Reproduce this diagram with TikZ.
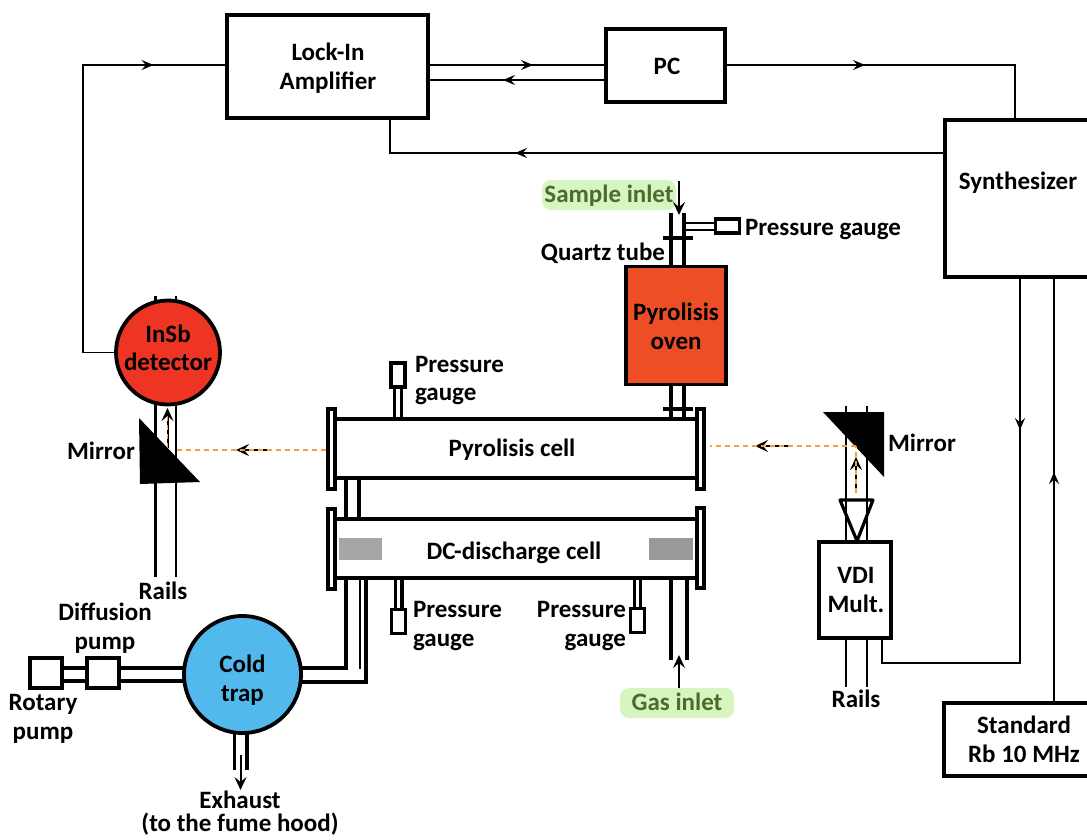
\documentclass[tikz,border=0pt]{standalone}
\usepackage{fontspec}
\setmainfont{Carlito}
\usetikzlibrary{arrows.meta,decorations.markings,calc}
\definecolor{beamc}{HTML}{F4A040}
\definecolor{inletfill}{HTML}{D6F5C0}
\definecolor{inlettext}{HTML}{4C6B2C}
\definecolor{ovenc}{HTML}{EE4E25}
\definecolor{detc}{HTML}{EE3524}
\definecolor{trapc}{HTML}{52B9EC}
\tikzset{
  lab/.style={font=\fontsize{25}{28.5}\selectfont\bfseries,align=center,inner sep=0pt,outer sep=0pt},
  boxn/.style={draw,line width=3.4pt,rectangle,outer sep=0pt,inner sep=0pt,align=center,font=\fontsize{25}{28.5}\selectfont\bfseries},
  flange/.style={draw,line width=3.8pt,fill=white,rectangle,outer sep=0pt,inner sep=0pt,minimum width=7pt,minimum height=80pt},
  gaugebox/.style={draw,line width=3.2pt,fill=white,rectangle,outer sep=0pt,inner sep=0pt},
  circn/.style={draw,line width=3.8pt,circle,outer sep=0pt,inner sep=0pt},
  wire/.style={line width=1.7pt},
  tube/.style={line width=3.2pt},
  rail/.style={line width=2.4pt},
  tipm/.style={-{Stealth[length=13pt,width=12pt,inset=5pt]},line width=2pt},
  midtip/.style={postaction={decorate,decoration={markings,mark=at position #1 with {\arrow{Stealth[length=12pt,width=10pt,inset=4.5pt]}}}}},
  beam/.style={line width=1.8pt,beamc,dash pattern=on 5pt off 4pt},
  inlet/.style={fill=inletfill,rounded corners=9pt,minimum height=30pt,inner sep=0pt,outer sep=0pt}
}
\begin{document}
\begin{tikzpicture}[x=1pt,y=-1pt]
\useasboundingbox (0,0) rectangle (1087,839);
% inlet labels
\node[inlet,minimum width=134pt] (sample) at (609,195) {};
\node[lab,text=inlettext] (samplelab) at (609,196) {Sample inlet};
\node[inlet,minimum width=114pt] (gas) at (677,703) {};
\node[lab,text=inlettext] (gaslab) at (677,702) {Gas inlet};
% electronics
\node[boxn,minimum width=201pt,minimum height=103pt] (lockin) at (327.5,66.5) {};
\node[lab] (lockinlab) at (328,68) {Lock-In\\Amplifier};
\node[boxn,minimum width=119pt,minimum height=73pt] (pc) at (665.5,65.5) {};
\node[lab] (pclabel) at (667,66.5) {PC};
\node[boxn,minimum width=146pt,minimum height=157pt] (synth) at (1018,198.5) {};
\node[lab] (synthlab) at (1018,183) {Synthesizer};
\node[boxn,minimum width=146pt,minimum height=73pt] (rb) at (1017,739.5) {};
\node[lab] (rblab) at (1024,739.5) {Standard\\Rb 10 MHz};
\node[boxn,minimum width=72pt,minimum height=96pt] (vdi) at (855,590) {};
\node[lab] (vdilab) at (856,590) {VDI\\Mult.};
% detector
\coordinate (detL) at (155.5,296);
\coordinate (detR) at (176,296);
\coordinate (railL) at (155.5,577);
\coordinate (railR) at (176,577);
\draw[rail] (detL) -- (railL);
\draw[rail] (detR) -- (railR);
\node[circn,fill=detc,minimum size=104pt] (det) at (168,352.5) {};
\node[lab] (detlab) at (168,348) {InSb\\detector};
\fill (139,418) -- (200,482) -- (140,484) -- cycle;
\node[lab] (railslab1) at (163,591) {Rails};
\node[lab] (mirL) at (101,451) {Mirror};
% electronics wires
\coordinate (cTL) at (83,65);
\coordinate (cBL) at (83,352.5);
\draw[wire,midtip=391pt] (det.west) -- (cBL) -- (cTL) -- (lockin.west |- cTL);
\coordinate (l1) at (lockin.east |- 0,65);
\coordinate (l2) at (lockin.east |- 0,80);
\draw[wire,midtip=105pt] (l1) -- (pc.west |- l1);
\draw[wire,midtip=103pt] (pc.west |- l2) -- (l2);
\coordinate (c1) at (1015,65);
\draw[wire,midtip=140pt] (pc.east |- c1) -- (c1) -- (synth.north -| c1);
\coordinate (c2) at (390,153);
\draw[wire,midtip=430pt] (synth.west |- c2) -- (c2) -- (lockin.south -| c2);
\coordinate (c3) at (1020,663);
\coordinate (c4) at (882,663);
\draw[wire,midtip=153pt] (synth.south -| c3) -- (c3) -- (c4) -- (vdi.south -| c4);
\coordinate (c5) at (1054,478);
\draw[wire,midtip=231pt] (rb.north -| c5) -- (synth.south -| c5);
% cells
\node[boxn,line width=3.8pt,minimum width=366pt,minimum height=59pt] (pcell) at (515,448.5) {};
\node[lab] (pclab) at (512,450) {Pyrolisis cell};
\node[boxn,line width=3.8pt,minimum width=366pt,minimum height=59pt] (dcell) at (515,548.5) {};
\node[lab] (dclab) at (514,553) {DC-discharge cell};
\fill[black!35] (339,538) rectangle (382,560);
\fill[black!40] (649,538) rectangle (693,560);
\node[flange] (fl1) at (331.5,449) {};
\node[flange] (fr1) at (700.5,449) {};
\node[flange] (fl2) at (331.5,549) {};
\node[flange] (fr2) at (700.5,548) {};
\draw[tube] (346,478) -- (346,519);
\draw[tube] (359,478) -- (359,519);
% gauge above pyrolisis cell
\node[gaugebox,minimum width=14pt,minimum height=24pt] (g1) at (398,375) {};
\draw[tube] (394.5,387) -- (394.5,418);
\draw[tube] (401.5,387) -- (401.5,418);
\node[lab,align=left,anchor=west] (g1lab) at (415,380.5) {Pressure\\gauge};
% gauges below discharge cell
\draw[tube] (395.5,578) -- (395.5,610);
\draw[tube] (402,578) -- (402,610);
\node[gaugebox,minimum width=14pt,minimum height=24pt] (g2) at (398.5,621.5) {};
\node[lab,align=left,anchor=west] (g2lab) at (413,626) {Pressure\\gauge};
\draw[tube] (634.5,578) -- (634.5,608);
\draw[tube] (640.5,578) -- (640.5,608);
\node[gaugebox,minimum width=14pt,minimum height=24pt] (g3) at (637.5,620.5) {};
\node[lab,align=right,anchor=east] (g3lab) at (626,626) {Pressure\\gauge};
% gas inlet tube
\draw[tube] (671,578) -- (671,660);
\draw[tube] (687,578) -- (687,660);
\coordinate (gasT) at (679,655);
\draw[tipm] (gas.north -| gasT) -- (gasT);
% oven
\node[boxn,line width=3.8pt,fill=ovenc,minimum width=100pt,minimum height=118pt] (oven) at (676,325.5) {};
\node[lab] (ovenlab) at (676,326.5) {Pyrolisis\\oven};
\draw[tube] (671,213) -- (671,265);
\draw[tube] (684,213) -- (684,265);
\draw[tube] (663,238) -- (693,238);
\draw[tube] (671,385) -- (671,418);
\draw[tube] (684,385) -- (684,418);
\draw[tube] (663,409) -- (693,409);
\node[gaugebox,minimum width=24pt,minimum height=14pt] (g4) at (727.5,226) {};
\draw[line width=2pt] (684,223) -- (g4.west |- 0,223);
\draw[line width=2pt] (684,230) -- (g4.west |- 0,230);
\node[lab,anchor=west] (g4lab) at (745,229.5) {Pressure gauge};
\node[lab,anchor=east] (qlab) at (665,253) {Quartz tube};
\coordinate (sT) at (679,181);
\coordinate (sE) at (679,215);
\draw[tipm] (sT) -- (sE);
% right mirror and multiplier
\coordinate (mL) at (846,406);
\coordinate (mR) at (867,406);
\draw[rail] (mL) -- (vdi.north -| mL);
\draw[rail] (mR) -- (vdi.north -| mR);
\fill (823,412) -- (884,412) -- (884,477) -- cycle;
\draw[line width=3.2pt,line join=round] (840,500) -- (873,500) -- (857,541) -- cycle;
\draw[rail] (vdi.south -| mL) -- (846,687);
\draw[rail] (vdi.south -| mR) -- (867,687);
\node[lab] (railslab2) at (856,699) {Rails};
\node[lab] (mirR) at (922,443) {Mirror};
% cold trap
\node[gaugebox,minimum width=32pt,minimum height=30pt] (rot) at (46,673) {};
\node[gaugebox,minimum width=32pt,minimum height=30pt] (dif) at (103,673) {};
\node[circn,fill=trapc,minimum size=117pt] (trap) at (242.5,674.5) {};
\node[lab] (traplab) at (242.5,680) {Cold\\trap};
\draw[tube] (rot.east |- 0,668) -- (dif.west |- 0,668);
\draw[tube] (rot.east |- 0,681) -- (dif.west |- 0,681);
\draw[tube] (dif.east |- 0,668) -- (184.5,668);
\draw[tube] (dif.east |- 0,681) -- (184.5,681);
\draw[tube,line join=miter] (300.5,668) -- (346,668) -- (346,578);
\draw[tube,line join=miter] (300.5,682) -- (366,682) -- (366,578);
\draw[line width=2pt] (360,578) -- (360,669);
\draw[tube] (234.5,733) -- (234.5,770);
\draw[tube] (247,733) -- (247,770);
\coordinate (eT) at (240.5,755);
\coordinate (eE) at (240.5,790);
\draw[tipm] (eT) -- (eE);
\node[lab] (rotlab) at (43,719) {Rotary\\pump};
\node[lab] (diflab) at (105,628) {Diffusion\\pump};
\node[lab] (exlab1) at (240,800) {Exhaust};
\node[lab] (exlab2) at (240,824) {(to the fume hood)};
% beams
\coordinate (bL1) at (326,450);
\coordinate (bL2) at (175,450);
\coordinate (aL1) at (268,450);
\coordinate (aL2) at (236,450);
\coordinate (vL1) at (167.5,448);
\coordinate (vL2) at (167.5,408);
\draw[tipm] (aL1) -- (aL2);
\draw[beam] (bL1) -- (bL2);
\draw[tipm] (vL1) -- (vL2);
\draw[beam] (vL1) -- ($(vL2)+(0,6)$);
\coordinate (bR1) at (856,446);
\coordinate (bR2) at (710,446);
\coordinate (aR1) at (788,446);
\coordinate (aR2) at (755,446);
\coordinate (vR1) at (856,493);
\coordinate (vR2) at (856,457);
\draw[tipm] (aR1) -- (aR2);
\draw[beam] (bR1) -- (bR2);
\draw[tipm] (vR1) -- (vR2);
\draw[beam] (vR1) -- (bR1);
\end{tikzpicture}
\end{document}
